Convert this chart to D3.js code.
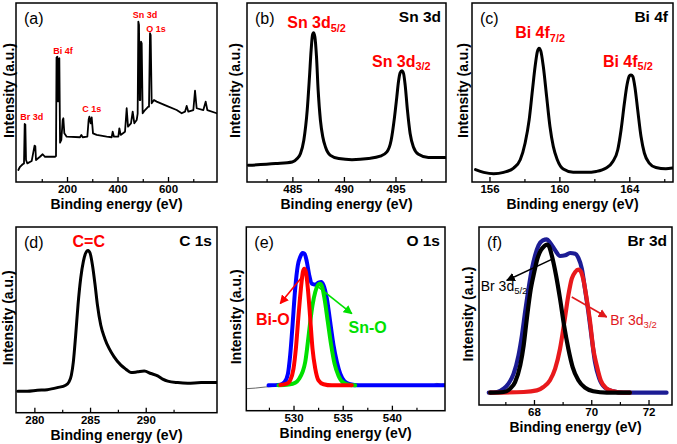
<!DOCTYPE html>
<html>
<head>
<meta charset="utf-8">
<script src="https://cdn.jsdelivr.net/npm/d3@7"></script>
<style>
  body { margin: 0; background: #fff; }
  svg { display: block; font-family: "Liberation Sans", Arial, sans-serif; }
</style>
</head>
<body>
<svg id="fig" width="677" height="444"></svg>
<script>
// ---- data: [binding energy (eV), intensity (% of frame)] ----
var surveyPts = [
  [7.3, 6.7], [13.9, 8.5], [24.4, 9.9], [29.7, 10.4], [32.4, 32.4], [35.0, 32.0], [37.6, 12.3],
  [42.9, 10.4], [60.1, 11.7], [71.5, 20.3], [74.5, 20.0], [77.2, 12.3], [93, 14.1], [103.6, 15.5],
  [112.9, 14.1], [152.5, 14.1], [156.4, 14.5], [158.5, 69.5], [161.7, 70.0], [164.4, 45],
  [166.5, 68.5], [169.6, 69.1], [172.5, 22], [177.5, 23.5], [182.9, 34.6], [185.5, 35.6],
  [189.4, 27.2], [198.7, 25.3], [251.5, 25.0], [256.8, 26.3], [262.1, 25.0], [280.5, 25.3],
  [285.8, 35.0], [288.5, 36.5], [293.7, 32.8], [297.7, 36.1], [303, 27.2], [317.5, 26.3],
  [357.1, 25.3], [376.9, 25.0], [380.9, 28.1], [386.1, 25.3], [403.3, 25.3], [407.2, 30.0],
  [412.5, 26.3], [429.7, 28.1], [436.3, 41.2], [441.6, 30.9], [453.4, 32.8], [460.1, 39.3],
  [466.6, 32.8], [475.9, 34.6], [479.8, 38.2], [482.5, 89.6], [485.1, 87.7], [487.8, 45.8],
  [490.4, 45.8], [493.0, 78.4], [495.7, 77.5], [499.6, 38.4], [508.9, 40.2], [522.1, 42.1],
  [524.7, 42.1], [528.7, 83.1], [531.3, 82.1], [535.3, 44.0], [544.5, 45.8], [555.1, 44.9],
  [594.7, 42.5], [634.3, 40.2], [654.1, 38.4], [667.3, 39.3], [673.9, 42.5], [680.5, 39.3],
  [700.3, 40.2], [706.9, 51.0], [713.5, 41.2], [739.9, 40.2], [749.1, 44.9], [755.7, 40.2],
  [792.7, 38.4]
];

var sn3dPts = [
  [480.74, 9.3], [483.38, 10.3], [484.99, 11.2], [485.47, 13.1], [485.79, 15.9], [486.11, 23.3],
  [486.44, 40.1], [486.66, 58.8], [486.82, 73.7], [486.95, 82.1], [487.05, 83.4], [487.18, 81.1],
  [487.34, 70.0], [487.50, 51.3], [487.72, 34.5], [487.95, 25.2], [488.21, 19.6], [488.69, 14.9],
  [489.50, 13.1], [490.78, 12.5], [492.39, 13.1], [493.52, 14.4], [494.17, 16.8], [494.58, 23.3],
  [494.91, 36.4], [495.13, 47.6], [495.29, 56.0], [495.45, 61.0], [495.62, 62.1], [495.78, 60.7],
  [495.94, 54.1], [496.16, 40.1], [496.42, 27.1], [496.74, 19.6], [497.23, 15.5], [498.19, 13.7],
  [499.80, 13.7]
];

var bi4fPts = [
  [155.20, 6.9], [155.67, 5.4], [156.24, 4.6], [156.81, 5.4], [157.38, 7.8], [157.76, 12.4],
  [158.04, 21.8], [158.27, 34.7], [158.46, 51.5], [158.61, 64.5], [158.74, 72.8], [158.84, 74.7],
  [158.93, 73.4], [159.08, 64.5], [159.27, 47.7], [159.46, 31.0], [159.65, 19.9], [159.88, 12.4],
  [160.22, 7.2], [160.79, 5.4], [161.54, 5.4], [162.11, 5.9], [162.68, 7.8], [163.06, 11.5],
  [163.34, 18.0], [163.53, 29.2], [163.72, 44.1], [163.87, 54.3], [164.01, 59.3], [164.10, 59.8],
  [164.20, 58.9], [164.33, 52.4], [164.48, 40.3], [164.67, 25.4], [164.86, 16.2], [165.14, 10.6],
  [165.52, 8.1], [166.09, 7.4], [166.47, 7.8]
];

var c1sPts = [
  [278.51, 11.6], [279.36, 11.6], [280.26, 12.1], [281.16, 12.4], [282.06, 13.5], [282.81, 14.8],
  [283.11, 16.6], [283.32, 20.2], [283.50, 27.4], [283.71, 41.8], [283.92, 58.1], [284.16, 72.4],
  [284.40, 81.5], [284.61, 86.0], [284.82, 87.4], [285.00, 86.0], [285.21, 79.7], [285.45, 68.9],
  [285.66, 58.1], [285.96, 47.2], [286.32, 40.0], [286.71, 34.6], [287.16, 30.1], [287.77, 25.6],
  [288.22, 23.4], [288.67, 21.6], [289.27, 22.0], [289.87, 22.4], [290.47, 21.1], [291.07, 19.8],
  [291.52, 18.1], [291.97, 17.0], [292.87, 16.2], [293.77, 15.9], [294.97, 16.2], [296.41, 16.2]
];

var o1sRawLow = [[525.26, 12.0], [526.11, 12.3], [527.12, 12.9], [528.14, 13.3], [528.98, 13.8]];
var o1sRawHigh = [[544.06, 13.8], [544.57, 14.9], [545.0, 14.4], [545.42, 14.6]];

var o1sEnvelope = [
  [527.46, 13.8], [528.65, 14.2], [529.09, 15.6], [529.43, 20.1], [529.66, 30.2], [529.90, 46.5],
  [530.17, 66.4], [530.44, 79.2], [530.68, 83.7], [530.92, 85.8], [531.12, 85.5], [531.36, 80.9],
  [531.60, 73.7], [531.87, 69.1], [532.21, 68.6], [532.54, 69.7], [532.82, 70.1], [533.05, 68.3],
  [533.39, 61.0], [533.73, 48.3], [534.07, 35.6], [534.41, 26.5], [534.75, 20.1], [535.19, 16.0],
  [535.76, 14.4], [536.61, 13.8], [545.42, 13.8]
];
var o1sBiO = [
  [528.65, 14.0], [529.33, 14.7], [529.66, 16.5], [530.00, 22.9], [530.24, 33.8], [530.51, 51.9],
  [530.75, 66.4], [530.95, 75.5], [531.09, 77.3], [531.26, 75.5], [531.46, 66.4], [531.70, 50.1],
  [531.93, 33.8], [532.21, 22.9], [532.54, 16.5], [533.05, 14.4], [533.90, 13.8], [535.93, 13.8]
];
var o1sSnO = [
  [528.48, 13.8], [529.50, 14.2], [530.17, 15.2], [530.58, 17.4], [530.92, 21.1], [531.19, 26.5],
  [531.46, 37.4], [531.70, 48.3], [531.93, 57.4], [532.21, 64.6], [532.48, 68.3], [532.68, 69.1],
  [532.88, 67.9], [533.15, 61.0], [533.49, 48.3], [533.83, 35.6], [534.17, 25.6], [534.58, 18.9],
  [535.08, 15.2], [535.76, 14.0], [536.27, 13.8]
];

var br3dEnvelope = [
  [66.42, 6.9], [66.71, 7.3], [66.94, 9.2], [67.11, 12.0], [67.29, 17.6], [67.46, 27.9],
  [67.58, 39.2], [67.69, 52.2], [67.81, 65.3], [67.93, 76.6], [68.04, 84.1], [68.16, 89.7],
  [68.31, 92.5], [68.45, 93.1], [68.56, 91.2], [68.74, 86.9], [68.91, 83.7], [69.09, 84.1],
  [69.26, 85.4], [69.44, 85.0], [69.55, 82.6], [69.67, 76.6], [69.78, 65.3], [69.90, 52.2],
  [70.02, 37.2], [70.13, 24.2], [70.28, 14.8], [70.48, 9.7], [70.77, 7.7], [71.12, 6.9],
  [72.63, 6.9]
];
var br3d52 = [
  [66.47, 6.9], [66.94, 7.3], [67.17, 9.2], [67.34, 12.9], [67.52, 22.3], [67.64, 33.5],
  [67.75, 48.5], [67.89, 65.3], [68.01, 74.7], [68.12, 82.2], [68.24, 86.9], [68.36, 89.3],
  [68.45, 90.1], [68.52, 89.3], [68.62, 84.1], [68.77, 72.9], [68.91, 59.7], [69.05, 44.8],
  [69.20, 31.6], [69.35, 21.3], [69.55, 13.9], [69.78, 9.7], [70.07, 7.7], [70.54, 6.9],
  [71.35, 6.9]
];
var br3d32 = [
  [66.47, 6.9], [67.64, 7.3], [68.10, 8.2], [68.33, 10.1], [68.56, 13.9], [68.74, 20.4],
  [68.91, 31.6], [69.06, 46.6], [69.20, 61.6], [69.32, 71.0], [69.44, 74.7], [69.55, 76.0],
  [69.63, 75.1], [69.73, 70.0], [69.84, 59.7], [69.96, 46.6], [70.07, 31.6], [70.19, 22.3],
  [70.33, 13.9], [70.54, 9.2], [70.77, 7.7], [71.12, 6.9], [71.35, 6.9]
];

// axis domains and ticks
var surveyDomain = [-2, 794], surveyTicks = [200, 400, 600], surveyMinor = [100, 300, 500, 700];
var sn3dDomain = [480.6, 499.9], sn3dTicks = [485, 490, 495], sn3dMinor = [482.5, 487.5, 492.5, 497.5];
var bi4fDomain = [155.0, 166.5], bi4fTicks = [156, 160, 164], bi4fMinor = [158, 162, 166];
var c1sDomain = [278.35, 296.4], c1sTicks = [280, 285, 290], c1sMinor = [282.5, 287.5, 292.5];
var o1sDomain = [525.2, 545.4], o1sTicks = [530, 535, 540], o1sMinor = [527.5, 532.5, 537.5, 542.5];
var br3dDomain = [66.08, 72.82], br3dTicks = [68, 70, 72], br3dMinor = [67, 69, 71];

var svg = d3.select('#fig');
svg.append('rect').attr('width', 677).attr('height', 444).attr('fill', '#fff');
var defs = svg.append('defs');

function arrowMarker(id, color) {
    defs.append('marker')
        .attr('id', id)
        .attr('viewBox', '0 0 10 10')
        .attr('refX', 9).attr('refY', 5)
        .attr('markerUnits', 'userSpaceOnUse')
        .attr('markerWidth', 9).attr('markerHeight', 9)
        .attr('orient', 'auto')
        .append('path')
        .attr('d', 'M0,0L10,5L0,10z')
        .attr('fill', color);
}
arrowMarker('arr-red', '#ff0000');
arrowMarker('arr-green', '#00e000');
arrowMarker('arr-black', '#000');
arrowMarker('arr-dred', '#e0191c');

// one framed panel with inward ticks on the bottom axis
function makePanel(box, domain, ticks, minor, name, tag, yLabelX) {
    var g = svg.append('g');
    var x = d3.scaleLinear().domain(domain).range([box.left, box.right]);
    var y = d3.scaleLinear().domain([0, 100]).range([box.bottom, box.top]);

    var clipId = 'clip-' + tag;
    defs.append('clipPath').attr('id', clipId)
        .append('rect')
        .attr('x', box.left).attr('y', box.top)
        .attr('width', box.right - box.left).attr('height', box.bottom - box.top);

    var minorAxis = g.append('g')
        .attr('transform', 'translate(0,' + box.bottom + ')')
        .call(d3.axisBottom(x).tickValues(minor).tickSize(-3).tickFormat(''));
    minorAxis.select('.domain').remove();
    minorAxis.selectAll('line').attr('stroke-width', 1.2);

    var majorAxis = g.append('g')
        .attr('transform', 'translate(0,' + box.bottom + ')')
        .call(d3.axisBottom(x).tickValues(ticks).tickSize(-5).tickPadding(3).tickFormat(d3.format('d')));
    majorAxis.select('.domain').remove();
    majorAxis.selectAll('line').attr('stroke-width', 1.3);
    majorAxis.selectAll('text')
        .attr('font-size', 11.5)
        .attr('font-weight', 'bold')
        .attr('font-family', '"Liberation Sans", Arial, sans-serif')
        .attr('fill', '#000');

    g.append('text')
        .attr('x', (box.left + box.right) / 2)
        .attr('y', box.bottom + 27)
        .attr('text-anchor', 'middle')
        .attr('font-size', 14)
        .attr('font-weight', 'bold')
        .text('Binding energy (eV)');

    g.append('text')
        .attr('transform', 'translate(' + yLabelX + ',' + ((box.top + box.bottom) / 2 - 2) + ') rotate(-90)')
        .attr('text-anchor', 'middle')
        .attr('dy', '0.35em')
        .attr('font-size', 14)
        .attr('font-weight', 'bold')
        .text('Intensity (a.u.)');

    var plot = g.append('g').attr('clip-path', 'url(#' + clipId + ')');

    g.append('rect')
        .attr('x', box.left).attr('y', box.top)
        .attr('width', box.right - box.left).attr('height', box.bottom - box.top)
        .attr('fill', 'none').attr('stroke', '#000').attr('stroke-width', 1.5);

    g.append('text')
        .attr('x', box.left + 8).attr('y', box.top + 21)
        .attr('font-size', 16)
        .text('(' + tag + ')');

    g.append('text')
        .attr('x', box.right - 5).attr('y', box.top + 19)
        .attr('text-anchor', 'end')
        .attr('font-size', 15.5)
        .attr('font-weight', 'bold')
        .text(name);

    return { g: g, plot: plot, x: x, y: y };
}

function drawCurve(p, pts, color, width, curve) {
    var line = d3.line()
        .x(function(d) { return p.x(d[0]); })
        .y(function(d) { return p.y(d[1]); })
        .curve(curve || d3.curveMonotoneX);
    p.plot.append('path')
        .datum(pts)
        .attr('d', line)
        .attr('fill', 'none')
        .attr('stroke', color)
        .attr('stroke-width', width)
        .attr('stroke-linejoin', 'round')
        .attr('stroke-linecap', 'round');
}

function note(p, e, i, main, sub, color, size, weight, anchor) {
    var t = p.g.append('text')
        .attr('x', p.x(e)).attr('y', p.y(i))
        .attr('fill', color)
        .attr('font-size', size)
        .attr('font-weight', weight)
        .attr('text-anchor', anchor || 'start');
    t.append('tspan').text(main);
    if (sub) {
        t.append('tspan').attr('font-size', size * 0.68).attr('dy', size * 0.22).text(sub);
    }
}

function arrow(p, from, to, color, marker) {
    p.g.append('line')
        .attr('x1', p.x(from[0])).attr('y1', p.y(from[1]))
        .attr('x2', p.x(to[0])).attr('y2', p.y(to[1]))
        .attr('stroke', color)
        .attr('stroke-width', 1.6)
        .attr('marker-end', 'url(#' + marker + ')');
}

// (a) survey
var pa = makePanel({left: 16, top: 3, right: 217, bottom: 182}, surveyDomain, surveyTicks, surveyMinor, '', 'a', 9);
drawCurve(pa, surveyPts, '#000', 1.8, d3.curveLinear);
note(pa, 60, 34.6, 'Br 3d', '', '#ff0000', 9, 'bold', 'middle');
note(pa, 184, 71.5, 'Bi 4f', '', '#ff0000', 9, 'bold', 'middle');
note(pa, 297.8, 39.3, 'C 1s', '', '#ff0000', 9, 'bold', 'middle');
note(pa, 509, 91.5, 'Sn 3d', '', '#ff0000', 9, 'bold', 'middle');
note(pa, 552.5, 83.6, 'O 1s', '', '#ff0000', 9, 'bold', 'middle');

// (b) Sn 3d
var pb = makePanel({left: 247, top: 3, right: 446, bottom: 182}, sn3dDomain, sn3dTicks, sn3dMinor, 'Sn 3d', 'b', 235);
drawCurve(pb, sn3dPts, '#000', 3);
note(pb, 484.5, 85.8, 'Sn 3d', '5/2', '#ff0000', 16, 'bold');
note(pb, 492.72, 64.4, 'Sn 3d', '3/2', '#ff0000', 16, 'bold');

// (c) Bi 4f
var pc = makePanel({left: 472, top: 3, right: 673, bottom: 182}, bi4fDomain, bi4fTicks, bi4fMinor, 'Bi 4f', 'c', 463);
drawCurve(pc, bi4fPts, '#000', 3);
note(pc, 157.47, 80.3, 'Bi 4f', '7/2', '#ff0000', 16, 'bold');
note(pc, 162.49, 64.5, 'Bi 4f', '5/2', '#ff0000', 16, 'bold');

// (d) C 1s
var pd = makePanel({left: 16, top: 227, right: 217, bottom: 412.7}, c1sDomain, c1sTicks, c1sMinor, 'C 1s', 'd', 8.5);
drawCurve(pd, c1sPts, '#000', 3);
note(pd, 284.88, 89.2, 'C=C', '', '#ff0000', 16, 'bold', 'middle');

// (e) O 1s
var pe = makePanel({left: 246.3, top: 227, right: 445, bottom: 410.7}, o1sDomain, o1sTicks, o1sMinor, 'O 1s', 'e', 236.5);
drawCurve(pe, o1sRawLow, '#666', 1, d3.curveLinear);
drawCurve(pe, o1sRawHigh, '#666', 1, d3.curveLinear);
drawCurve(pe, o1sEnvelope, '#0000ff', 4);
drawCurve(pe, o1sSnO, '#00e000', 4);
drawCurve(pe, o1sBiO, '#ff0000', 4);
arrow(pe, [531.0, 73.7], [528.65, 58.3], '#ff0000', 'arr-red');
arrow(pe, [532.54, 67.3], [535.93, 52.8], '#00e000', 'arr-green');
note(pe, 527.9, 46.5, 'Bi-O', '', '#ff0000', 16, 'bold', 'middle');
note(pe, 537.54, 42.3, 'Sn-O', '', '#00e000', 16, 'bold', 'middle');

// (f) Br 3d
var pf = makePanel({left: 479, top: 227, right: 672, bottom: 405}, br3dDomain, br3dTicks, br3dMinor, 'Br 3d', 'f', 468);
drawCurve(pf, br3dEnvelope, '#1c1c94', 4.2);
drawCurve(pf, br3d32, '#e8191c', 4.2);
drawCurve(pf, br3d52, '#000', 4.2);
arrow(pf, [68.62, 81.8], [67.05, 70.0], '#000', 'arr-black');
arrow(pf, [69.32, 60.7], [70.54, 49.4], '#e0191c', 'arr-dred');
note(pf, 66.14, 63.9, 'Br 3d', '5/2', '#000', 14, 'normal');
note(pf, 70.66, 44.8, 'Br 3d', '3/2', '#e0191c', 14, 'normal');
</script>
</body>
</html>
